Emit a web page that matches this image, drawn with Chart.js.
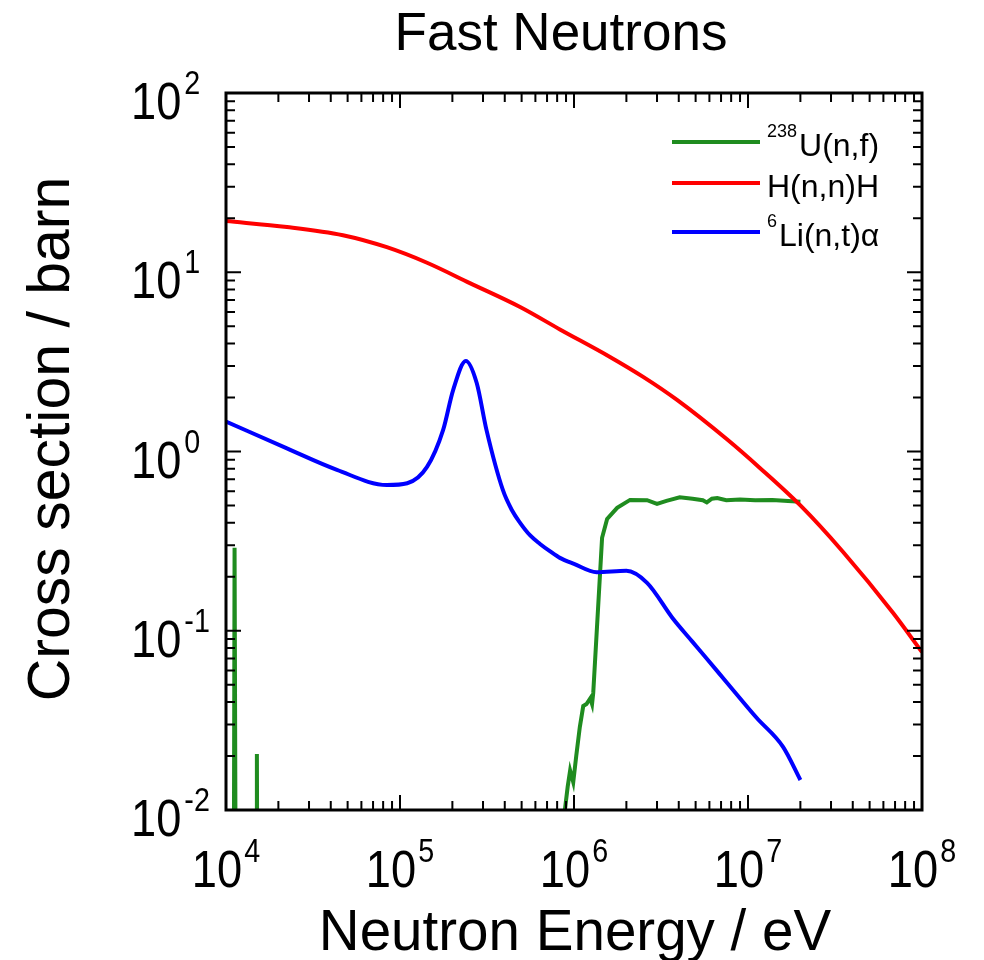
<!DOCTYPE html>
<html>
<head>
<meta charset="utf-8">
<title>Fast Neutrons</title>
<script src="https://cdn.jsdelivr.net/npm/chart.js@4.4.1/dist/chart.umd.min.js"></script>
<style>
  html, body { margin: 0; padding: 0; background: #fff; overflow: hidden; }
  #wrap { width: 984px; height: 960px; }
</style>
</head>
<body>
<div id="wrap"><canvas id="chart"></canvas></div>
<script>
// axis decades (log10 of tick values)
const xDecades = [4, 5, 6, 7, 8]
const yDecades = [-2, -1, 0, 1, 2]

// H(n,n)H elastic
const hEnergy = [1.0e4, 2.24e4, 4.7e4, 8.4e4, 1.43e5, 2.52e5, 4.9e5, 8.3e5, 1.61e6, 2.51e6, 3.91e6, 7.57e6, 1.17e7, 2.0e7, 3.52e7, 6.81e7, 1.0e8]
const hSigma = [19.3, 17.9, 16.1, 13.8, 11.3, 8.7, 6.4, 4.8, 3.37, 2.6, 1.94, 1.17, 0.81, 0.50, 0.275, 0.126, 0.076]

// 6Li(n,t)alpha
const liEnergy = [1.0e4, 2.24e4, 4.34e4, 8.4e4, 1.1e5, 1.43e5, 1.77e5, 2.02e5, 2.39e5, 2.76e5, 3.14e5, 3.9e5, 4.4e5, 4.9e5, 5.6e5, 6.38e5, 7.3e5, 8.3e5, 1.0e6, 1.35e6, 2.0e6, 2.63e6, 3.7e6, 4.8e6, 5.8e6, 7.57e6, 1.12e7, 1.59e7, 2.0e7]
const liSigma = [1.47, 1.04, 0.79, 0.65, 0.665, 0.82, 1.32, 2.2, 3.2, 2.41, 1.32, 0.61, 0.47, 0.40, 0.34, 0.305, 0.277, 0.255, 0.236, 0.212, 0.216, 0.185, 0.117, 0.0867, 0.0698, 0.0513, 0.0327, 0.0225, 0.0147]

// 238U(n,f) (values under 1e-2 fall below the axis)
const uEnergy = [1.0e4, 1.10e4, 1.12e4, 1.15e4, 1.49e4, 1.505e4, 1.53e4, 8.5e5, 8.62e5, 9.2e5, 9.5e5, 9.9e5, 1.03e6, 1.08e6, 1.13e6, 1.18e6, 1.24e6, 1.27e6, 1.29e6, 1.45e6, 1.55e6, 1.77e6, 2.1e6, 2.63e6, 3.0e6, 3.4e6, 4.05e6, 4.8e6, 5.5e6, 5.8e6, 6.2e6, 6.66e6, 7.5e6, 9.0e6, 1.1e7, 1.38e7, 1.7e7, 2.0e7]
const uSigma = [1e-4, 1e-4, 0.29, 1e-4, 1e-4, 0.0205, 1e-4, 1e-4, 0.008, 0.0135, 0.0166, 0.0143, 0.02, 0.029, 0.038, 0.039, 0.042, 0.039, 0.045, 0.33, 0.42, 0.485, 0.537, 0.535, 0.51, 0.53, 0.555, 0.545, 0.535, 0.52, 0.545, 0.55, 0.535, 0.54, 0.535, 0.537, 0.53, 0.525]

const legendItems = [
  { sup: '238', label: 'U(n,f)', color: '#1f8c1f' },
  { sup: '', label: 'H(n,n)H', color: '#ff0000' },
  { sup: '6', label: 'Li(n,t)\u03b1', color: '#0000ff' }
]

const FONT = '"Liberation Sans", Arial, Helvetica, sans-serif'

function toPoints(xs, ys) {
  return xs.map((x, i) => ({ x, y: ys[i] }))
}

function text(ctx, str, x, y, size, sx = 1) {
  ctx.save()
  ctx.font = `${size}px ${FONT}`
  ctx.textAlign = 'left'
  ctx.textBaseline = 'alphabetic'
  ctx.translate(x, y)
  ctx.scale(sx, 1)
  ctx.fillText(str, 0, 0)
  ctx.restore()
}

function measure(ctx, str, size, sx = 1) {
  ctx.save()
  ctx.font = `${size}px ${FONT}`
  const w = ctx.measureText(str).width * sx
  ctx.restore()
  return w
}

const frame = {
  id: 'frame',
  afterDraw(chart) {
    const ctx = chart.ctx
    const { left, right, top, bottom } = chart.chartArea
    const xs = chart.scales.x
    const ys = chart.scales.y
    ctx.save()
    ctx.fillStyle = '#000'
    ctx.strokeStyle = '#000'

    // inward ticks on all four sides
    ctx.lineWidth = 2
    ctx.beginPath()
    xDecades.forEach((d) => {
      for (let m = 1; m <= 9; m++) {
        if (d === xDecades[xDecades.length - 1] && m > 1) break
        const px = xs.getPixelForValue(m * Math.pow(10, d))
        const len = m === 1 ? 15 : 9
        ctx.moveTo(px, bottom); ctx.lineTo(px, bottom - len)
        ctx.moveTo(px, top); ctx.lineTo(px, top + len)
      }
    })
    yDecades.forEach((d) => {
      for (let m = 1; m <= 9; m++) {
        if (d === yDecades[yDecades.length - 1] && m > 1) break
        const py = ys.getPixelForValue(m * Math.pow(10, d))
        const len = m === 1 ? 15 : 9
        ctx.moveTo(left, py); ctx.lineTo(left + len, py)
        ctx.moveTo(right, py); ctx.lineTo(right - len, py)
      }
    })
    ctx.stroke()

    // box
    ctx.lineWidth = 3
    ctx.strokeRect(left, top, right - left, bottom - top)

    // x tick labels
    const sx = 0.87
    xDecades.forEach((d) => {
      const px = xs.getPixelForValue(Math.pow(10, d))
      const exp = String(d)
      const w10 = measure(ctx, '10', 52, sx)
      const we = measure(ctx, exp, 33, sx)
      const x0 = px - (w10 + 2 + we) / 2
      text(ctx, '10', x0, 887, 52, sx)
      text(ctx, exp, x0 + w10 + 2, 862, 33, sx)
    })

    // y tick labels
    yDecades.forEach((d) => {
      const py = ys.getPixelForValue(Math.pow(10, d))
      const exp = String(d)
      const w10 = measure(ctx, '10', 52, sx)
      text(ctx, '10', 131, py + 26, 52, sx)
      text(ctx, exp, 131 + w10 + 3, py + 1, 33, sx)
    })

    // titles
    ctx.textAlign = 'center'
    ctx.font = `53px ${FONT}`
    ctx.fillText('Fast Neutrons', 561, 50)
    ctx.save()
    ctx.font = `58px ${FONT}`
    ctx.translate(575, 950)
    ctx.scale(0.975, 1)
    ctx.fillText('Neutron Energy / eV', 0, 0)
    ctx.restore()
    ctx.save()
    ctx.font = `59px ${FONT}`
    ctx.translate(69, 439)
    ctx.rotate(-Math.PI / 2)
    ctx.fillText('Cross section / barn', 0, 0)
    ctx.restore()

    // legend
    const rows = [142, 183, 232]
    legendItems.forEach((item, i) => {
      const y = rows[i]
      ctx.strokeStyle = item.color
      ctx.lineWidth = 4
      ctx.beginPath()
      ctx.moveTo(672, y)
      ctx.lineTo(760, y)
      ctx.stroke()
      let x = 767
      if (item.sup) {
        text(ctx, item.sup, x, y - 5, 18)
        x += measure(ctx, item.sup, 18) + 2
      }
      text(ctx, item.label, x, y + 14, 32)
    })
    ctx.restore()
  }
}

function initChart() {
  const canvas = document.getElementById('chart')
  /* eslint-disable no-new */
  new Chart(canvas, {
    type: 'line',
    data: {
      datasets: [
        {
          label: '6Li(n,t)a',
          data: toPoints(liEnergy, liSigma),
          borderColor: '#0000ff',
          borderWidth: 4,
          cubicInterpolationMode: 'monotone'
        },
        {
          label: 'H(n,n)H',
          data: toPoints(hEnergy, hSigma),
          borderColor: '#ff0000',
          borderWidth: 4,
          cubicInterpolationMode: 'monotone'
        },
        {
          label: '238U(n,f)',
          data: toPoints(uEnergy, uSigma),
          borderColor: '#1f8c1f',
          borderWidth: 4,
          tension: 0
        }
      ]
    },
    options: {
      responsive: true,
      maintainAspectRatio: false,
      devicePixelRatio: 1,
      animation: false,
      events: [],
      elements: {
        point: { radius: 0 },
        line: { fill: false }
      },
      layout: {
        padding: { left: 226, right: 62, top: 93, bottom: 150 }
      },
      scales: {
        x: { type: 'logarithmic', min: 1e4, max: 1e8, display: false },
        y: { type: 'logarithmic', min: 1e-2, max: 1e2, display: false }
      },
      plugins: {
        legend: { display: false },
        tooltip: { enabled: false }
      }
    },
    plugins: [frame]
  })
}

initChart()
</script>
</body>
</html>
